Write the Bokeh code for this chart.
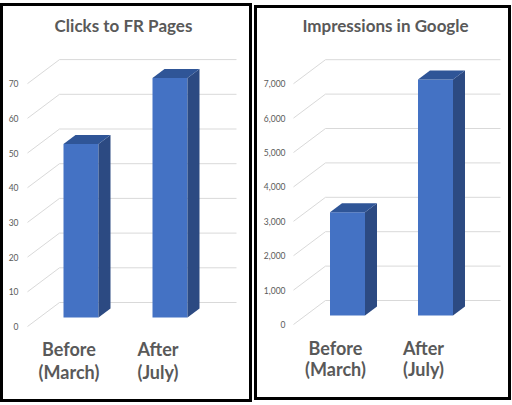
from bokeh.plotting import figure
from bokeh.layouts import row
from bokeh.models import Range1d
from bokeh.embed import file_html
from bokeh.resources import INLINE
from bokeh.core.properties import value

# data
categories = ["Before", "After"]
periods = ["(March)", "(July)"]

clicks = [50, 69]
clicks_ticks = [0, 10, 20, 30, 40, 50, 60, 70]

impressions = [3000, 6860]
impressions_ticks = [0, 1000, 2000, 3000, 4000, 5000, 6000, 7000]

FONT = "Lato"
GREY = "#595959"
FRONT = "#4472C4"
SIDE = "#2C4A82"
TOP = "#2F5597"


def panel(title, vals, ticks, fmt, W, H, zero_y, scale, cat0, step,
          grid_x0, grid_x1, label_x, title_pos, lab_y):
    # px (canvas) -> data helpers
    px_x = lambda px: (px - cat0) / step
    px_y = lambda py: (zero_y - py) / scale

    p = figure(width=W, height=H, output_backend="svg", toolbar_location=None,
               x_axis_type=None, y_axis_type=None,
               x_range=Range1d(px_x(0), px_x(W)), y_range=Range1d(px_y(H), px_y(0)),
               min_border=0, outline_line_color="black", outline_line_width=5)
    p.grid.visible = False

    # 3d depth of the floor / wall, in data units
    ddx = 32 / step
    ddy = 24 / scale
    xf = px_x(grid_x0)
    xr = px_x(grid_x1)

    xs, ys = [], []
    for t in ticks:
        xs.append([xf, xf + ddx, xr])
        ys.append([t, t + ddy, t + ddy])
    p.multi_line(xs, ys, line_color="#D9D9D9", line_width=1)

    p.text([px_x(label_x)] * len(ticks), ticks, text=[fmt(t) for t in ticks],
           text_align="right", text_baseline="middle", text_font=value(FONT),
           text_font_size="8.5px", text_color=GREY)

    # bars
    bw = 35 / step
    f0 = 0.375
    bd = 0.375
    fx, fy = f0 * ddx, f0 * ddy
    bx, by = bd * ddx, bd * ddy
    xc = list(range(len(vals)))
    left = [c - bw / 2 + fx for c in xc]
    right = [c + bw / 2 + fx for c in xc]
    top = [v + fy for v in vals]
    p.quad(left=left, right=right, bottom=fy, top=top, fill_color=FRONT, line_color=None)
    p.patches([[r, r + bx, r + bx, r] for r in right],
              [[fy, fy + by, t + by, t] for t in top],
              fill_color=SIDE, line_color=None)
    p.patches([[l, l + bx, r + bx, r] for l, r in zip(left, right)],
              [[t, t + by, t + by, t] for t in top],
              fill_color=TOP, line_color=None)

    # category labels
    p.text(xc, [px_y(lab_y[0])] * len(xc), text=categories, text_align="center",
           text_baseline="middle", text_font=value(FONT), text_font_style="bold",
           text_font_size="18px", text_color=GREY)
    p.text(xc, [px_y(lab_y[1])] * len(xc), text=periods, text_align="center",
           text_baseline="middle", text_font=value(FONT), text_font_style="bold",
           text_font_size="18px", text_color=GREY)

    p.text([px_x(title_pos[0])], [px_y(title_pos[1])], text=[title], text_align="center",
           text_baseline="middle", text_font=value(FONT), text_font_style="bold",
           text_font_size="17px", text_color=GREY)
    return p


p1 = panel("Clicks to FR Pages", clicks, clicks_ticks, lambda t: str(t),
           W=252, H=399, zero_y=323, scale=3.47, cat0=68.5, step=89,
           grid_x0=27, grid_x1=236, label_x=18, title_pos=(123, 22), lab_y=(345, 368))
p2 = panel("Impressions in Google", impressions, impressions_ticks, lambda t: f"{t:,}",
           W=257, H=395, zero_y=319, scale=0.0344, cat0=81, step=88,
           grid_x0=39, grid_x1=246, label_x=31, title_pos=(131, 20), lab_y=(342, 363))
p1.margin = (3, 0, 0, 0)
p2.margin = (5, 0, 0, 2)

p = row(p1, p2)

open("out.html", "w").write(file_html(p, INLINE))
